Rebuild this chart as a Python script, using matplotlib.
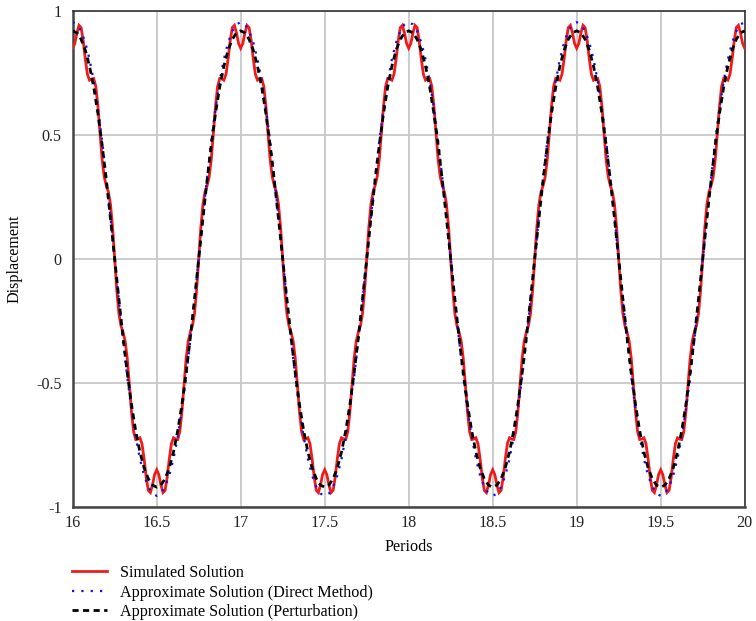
import numpy as np
import matplotlib
matplotlib.use("Agg")
import matplotlib.pyplot as plt

# One period of each response (phase 0 = displacement maximum), repeated over periods 16-20
start_period = 16
n_periods = 4

# simulated response, sampled every 1/80 of a period
simulated_period = [
    0.850, 0.869, 0.911, 0.942, 0.933, 0.880, 0.806, 0.745, 0.721, 0.726,
    0.728, 0.696, 0.616, 0.507, 0.403, 0.332, 0.296, 0.270, 0.220, 0.126,
    0.000, -0.126, -0.220, -0.270, -0.296, -0.332, -0.403, -0.507, -0.616, -0.696,
    -0.728, -0.726, -0.721, -0.745, -0.806, -0.880, -0.933, -0.942, -0.911, -0.869,
    -0.850, -0.869, -0.911, -0.942, -0.933, -0.880, -0.806, -0.745, -0.721, -0.726,
    -0.728, -0.696, -0.616, -0.507, -0.403, -0.332, -0.296, -0.270, -0.220, -0.126,
    0.000, 0.126, 0.220, 0.270, 0.296, 0.332, 0.403, 0.507, 0.616, 0.696,
    0.728, 0.726, 0.721, 0.745, 0.806, 0.880, 0.933, 0.942, 0.911, 0.869,
]

# approximate solutions, sampled every 1/40 of a period
direct_period = [
    0.955, 0.946, 0.919, 0.873, 0.806, 0.718, 0.608, 0.477, 0.329, 0.168,
    0.000, -0.168, -0.329, -0.477, -0.608, -0.718, -0.806, -0.873, -0.919, -0.946,
    -0.955, -0.946, -0.919, -0.873, -0.806, -0.718, -0.608, -0.477, -0.329, -0.168,
    0.000, 0.168, 0.329, 0.477, 0.608, 0.718, 0.806, 0.873, 0.919, 0.946,
]
perturbation_period = [
    0.920, 0.912, 0.886, 0.842, 0.778, 0.693, 0.587, 0.461, 0.318, 0.162,
    0.000, -0.162, -0.318, -0.461, -0.587, -0.693, -0.778, -0.842, -0.886, -0.912,
    -0.920, -0.912, -0.886, -0.842, -0.778, -0.693, -0.587, -0.461, -0.318, -0.162,
    0.000, 0.162, 0.318, 0.461, 0.587, 0.693, 0.778, 0.842, 0.886, 0.912,
]

x_ticks = [16, 16.5, 17, 17.5, 18, 18.5, 19, 19.5, 20]
x_tick_labels = ["16", "16.5", "17", "17.5", "18", "18.5", "19", "19.5", "20"]
y_ticks = [-1, -0.5, 0, 0.5, 1]
y_tick_labels = ["-1", "-0.5", "0", "0.5", "1"]

labels = [
    "Simulated Solution",
    "Approximate Solution (Direct Method)",
    "Approximate Solution (Perturbation)",
]


def repeat_periods(period_values):
    vals = np.asarray(period_values, dtype=float)
    y = np.concatenate([np.tile(vals, n_periods), vals[:1]])
    x = np.linspace(start_period, start_period + n_periods, len(y))
    return x, y


plt.rcParams["font.family"] = ["Liberation Serif", "DejaVu Serif"]
fs = 11.6
plt.rcParams["font.size"] = fs

fig = plt.figure(figsize=(7.56, 6.21), dpi=100)
ax = fig.add_axes([72.7 / 756, 1 - 507 / 621, 672 / 756, 496 / 621])

xs, ys = repeat_periods(simulated_period)
xd, yd = repeat_periods(direct_period)
xp, yp = repeat_periods(perturbation_period)

l1, = ax.plot(xs, ys, color="#ee1c1c", lw=2.0, solid_joinstyle="miter", zorder=3)
l2, = ax.plot(xd, yd, color="#1010ee", lw=1.6, linestyle=(0, (1, 3.2)), zorder=4)
l3, = ax.plot(xp, yp, color="black", lw=2.0, linestyle=(0, (2.2, 1.6)), zorder=5)

ax.set_xlim(16, 20)
ax.set_ylim(-1, 1)
ax.set_xticks(x_ticks)
ax.set_xticklabels(x_tick_labels)
ax.set_yticks(y_ticks)
ax.set_yticklabels(y_tick_labels)
ax.tick_params(length=0, labelsize=fs, colors="#222222")
ax.tick_params(axis="y", pad=8)
ax.tick_params(axis="x", pad=6)
ax.grid(True, color="#c8c8c8", lw=1.3)
ax.set_axisbelow(True)

for side in ["left", "bottom"]:
    ax.spines[side].set_color("#444444")
    ax.spines[side].set_linewidth(1.8)
for side in ["top", "right"]:
    ax.spines[side].set_color("#333333")
    ax.spines[side].set_linewidth(1.2)

ax.set_xlabel("Periods", fontsize=fs)
ax.set_ylabel("Displacement", fontsize=fs)
ax.xaxis.set_label_coords(0.5, -0.064)
ax.yaxis.set_label_coords(-0.074, 0.5)

fig.legend(
    [l1, l2, l3], labels,
    loc="upper left",
    bbox_to_anchor=(72 / 756, 1 - 565 / 621),
    frameon=False,
    fontsize=fs,
    handlelength=2.15,
    handletextpad=0.8,
    labelspacing=0.22,
    borderpad=0,
    borderaxespad=0,
)

fig.savefig("out.png", dpi=100)
